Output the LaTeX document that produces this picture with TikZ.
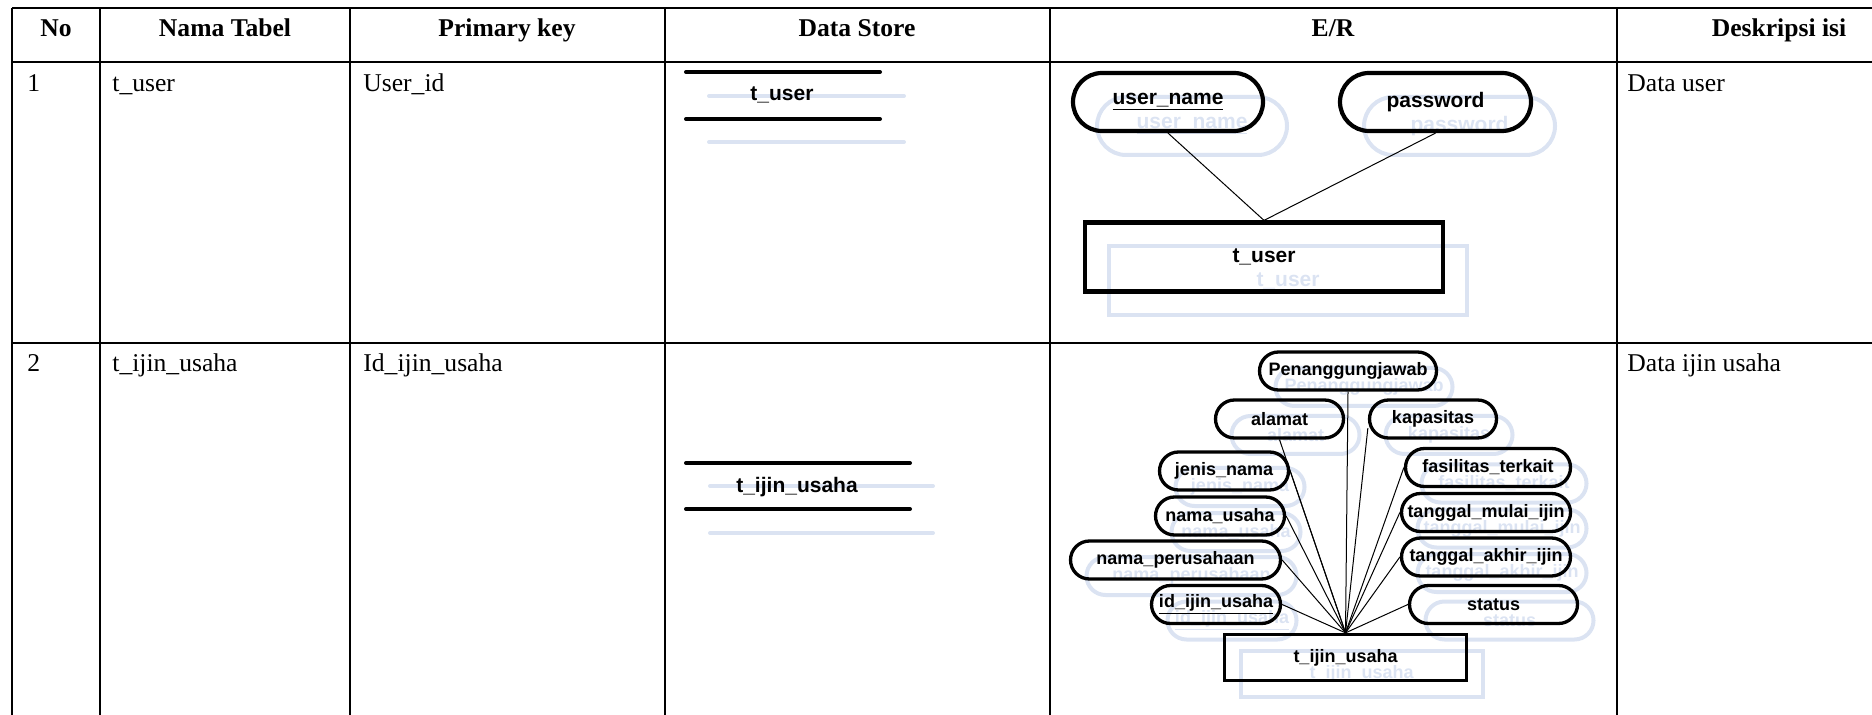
\documentclass[tikz,border=0pt]{standalone}
\usepackage{fontspec}
\setmainfont{Liberation Serif}
\newfontfamily\arialfont{Liberation Sans}
\definecolor{paleblue}{RGB}{219,227,242}

\begin{document}
\begin{tikzpicture}[
			x=0.5pt, y=-0.5pt,
			grid/.style={draw=black, line width=0.9pt},
			head/.style={anchor=base, inner sep=0pt,
			font=\fontsize{12.8}{14}\selectfont\bfseries},
			cell/.style={anchor=base west, inner sep=0pt,
			font=\fontsize{12.8}{14}\selectfont},
			store/.style={draw=black, line width=2pt, line cap=round},
			attrA/.style={draw, rounded corners=14.5pt, line width=2.1pt,
			minimum height=29pt, inner sep=0pt,
			font=\arialfont\bfseries\fontsize{10.5}{12}\selectfont},
			attrB/.style={draw, rounded corners=9.5pt, line width=1.65pt,
			minimum height=19pt, inner sep=0pt,
			font=\arialfont\bfseries\fontsize{9}{11}\selectfont},
			entA/.style={draw, line width=2.1pt, inner sep=0pt,
			minimum width=179pt, minimum height=34.5pt,
			font=\arialfont\bfseries\fontsize{10.5}{12}\selectfont},
			entB/.style={draw, line width=1.65pt, inner sep=0pt,
			minimum width=121pt, minimum height=23pt,
			font=\arialfont\bfseries\fontsize{9}{11}\selectfont},
			ghost/.style={draw=paleblue, text=paleblue, line width=2pt, line cap=round},
			link/.style={draw=black, line width=0.5pt}
			]
			\useasboundingbox (0,0) rectangle (1872,715);

			% table
			\draw[grid] (12,8) -- (1872,8);
			\draw[grid] (12,62) -- (1872,62);
			\draw[grid] (12,343) -- (1872,343);
			\foreach \x in {12,100,350,665,1050,1617}
				\draw[grid] (\x,8) -- (\x,715);

			\node[head] (hno) at (56,37) {No};
			\node[head] (hnama) at (225,37) {Nama Tabel};
			\node[head] (hkey) at (507,37) {Primary key};
			\node[head] (hstore) at (857,37) {Data Store};
			\node[head] (her) at (1333,37) {E/R};
			\node[head] (hdesc) at (1779,37) {Deskripsi isi};

			\node[cell] (no1) at (27,92) {1};
			\node[cell] (tab1) at (112,92) {t\_user};
			\node[cell] (key1) at (363,92) {User\_id};
			\node[cell] (desc1) at (1627,92) {Data user};

			\node[cell] (no2) at (27,372) {2};
			\node[cell] (tab2) at (112,372) {t\_ijin\_usaha};
			\node[cell] (key2) at (363,372) {Id\_ijin\_usaha};
			\node[cell] (desc2) at (1627,372) {Data ijin usaha};

			% data store
			\draw[ghost] (709,96) -- (904,96);
			\draw[ghost] (709,142) -- (904,142);
			\draw[store] (686,72) -- (880,72);
			\draw[store] (686,119) -- (880,119);
			\node[font=\arialfont\bfseries\fontsize{10.5}{12}\selectfont] (ds1) at (782,95) {t\_user};

			\draw[ghost] (710,486) -- (933,486);
			\draw[ghost] (710,533) -- (933,533);
			\draw[store] (686,463) -- (910,463);
			\draw[store] (686,509) -- (910,509);
			\node[font=\arialfont\bfseries\fontsize{10.5}{12}\selectfont] (ds2) at (797,487) {t\_ijin\_usaha};

			% E/R t_user
			\node[attrA, ghost, minimum width=95pt] at (1192,126) {\underline{user\_name}};
			\node[attrA, ghost, minimum width=95.5pt] at (1459.5,126) {password};
			\node[entA, ghost] at (1288,281) {t\_user};
			\node[attrA, minimum width=95pt] (uname) at (1168,102) {\underline{user\_name}};
			\node[attrA, minimum width=95.5pt] (pass) at (1435.5,102) {password};
			\node[entA] (tuser) at (1264,257) {t\_user};
			\draw[link] (uname.south) -- (tuser.north);
			\draw[link] (pass.south) -- (tuser.north);

			% E/R t_ijin_usaha
			\node[entB, ghost] at (1361.5,673.5) {t\_ijin\_usaha};
			\foreach \n/\x/\y/\w/\t in {
				pen/1348/371/177/Penanggungjawab,
				alamat/1279.5/419/128/alamat,
				kap/1433/419/127/kapasitas,
				jenis/1224/471/129/jenis\_nama,
				fasil/1488/467.5/165/fasilitas\_terkait,
				namaus/1220/516/129/nama\_usaha,
				mulai/1486/512.5/169/tanggal\_mulai\_ijin,
				namaper/1175.5/560/210/nama\_perusahaan,
				akhir/1486/557/169/tanggal\_akhir\_ijin,
				idijin/1216/604.5/129/{\underline{id\_ijin\_usaha}},
				status/1493.5/604.5/168/status}
				\node[attrB, ghost, minimum width=\w*0.5pt] at ({\x+16},{\y+16}) {\t};
			\foreach \n/\x/\y/\w/\t in {
				pen/1348/371/177/Penanggungjawab,
				alamat/1279.5/419/128/alamat,
				kap/1433/419/127/kapasitas,
				jenis/1224/471/129/jenis\_nama,
				fasil/1488/467.5/165/fasilitas\_terkait,
				namaus/1220/516/129/nama\_usaha,
				mulai/1486/512.5/169/tanggal\_mulai\_ijin,
				namaper/1175.5/560/210/nama\_perusahaan,
				akhir/1486/557/169/tanggal\_akhir\_ijin,
				idijin/1216/604.5/129/{\underline{id\_ijin\_usaha}},
				status/1493.5/604.5/168/status}
				\node[attrB, minimum width=\w*0.5pt] (\n) at (\x,\y) {\t};
			\node[entB] (tiu) at (1345.5,657.5) {t\_ijin\_usaha};
			\foreach \n/\a in {pen/south, alamat/south, kap/188, jenis/east,
				fasil/west, namaus/east, mulai/west, namaper/east,
				akhir/west, idijin/east, status/west}
				\draw[link] (\n.\a) -- (tiu.north);
		\end{tikzpicture}
\end{document}
